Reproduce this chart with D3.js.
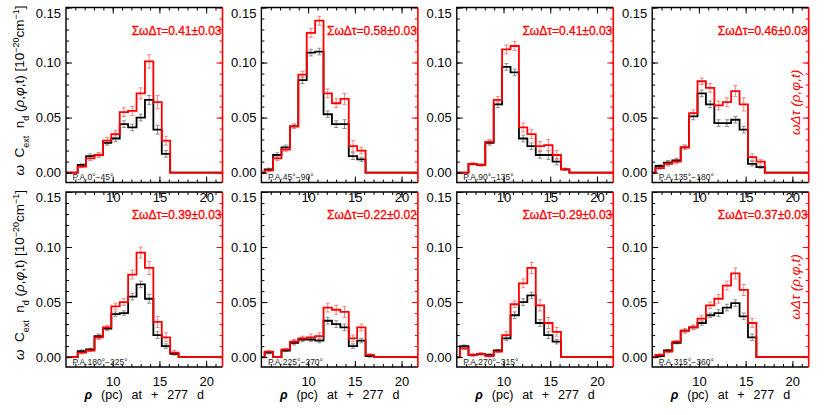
<!DOCTYPE html>
<html>
<head>
<meta charset="utf-8">
<script src="https://cdn.jsdelivr.net/npm/d3@7"></script>
<style>
body { margin: 0; background: #fff; }
svg text { font-family: "Liberation Sans", Arial, Helvetica, sans-serif; }
</style>
</head>
<body>
<svg id="fig" width="830" height="415"></svg>
<script>
// bin edges in rho (pc), 13 bins
let rhoEdges = [5.35, 6.25, 7.15, 8.05, 8.95, 9.85, 10.75, 11.65, 12.55, 13.45, 14.35, 15.25, 16.15, 17.05];

let paLabels = ['P.A.0°−45°', 'P.A.45°−90°', 'P.A.90°−135°', 'P.A.135°−180°',
                'P.A.180°−225°', 'P.A.225°−270°', 'P.A.270°−315°', 'P.A.315°−360°'];

let sumLabels = ['0.41±0.03', '0.58±0.03', '0.41±0.03', '0.46±0.03',
                 '0.39±0.03', '0.22±0.02', '0.29±0.03', '0.37±0.03'];

// omega C_ext n_d (black)
let cextND = [
  [0, 0.007, 0.015, 0.016, 0.027, 0.031, 0.044, 0.041, 0.050, 0.066, 0.039, 0.017, 0],
  [0.003, 0.016, 0.023, 0.042, 0.084, 0.109, 0.110, 0.053, 0.044, 0.044, 0.015, 0.012, 0],
  [0, 0.008, 0.007, 0.027, 0.062, 0.096, 0.091, 0.031, 0.024, 0.016, 0.016, 0.010, 0.003],
  [0.006, 0.009, 0.011, 0.023, 0.051, 0.072, 0.062, 0.045, 0.045, 0.048, 0.039, 0.008, 0.005],
  [0, 0.0055, 0.007, 0.019, 0.026, 0.039, 0.040, 0.055, 0.066, 0.053, 0.020, 0.010, 0.003],
  [0.004, 0, 0.006, 0.013, 0.016, 0.016, 0.015, 0.033, 0.030, 0.027, 0.010, 0.015, 0.001],
  [0.010, 0.002, 0.003, 0.002, 0.006, 0.017, 0.038, 0.050, 0.056, 0.031, 0.020, 0.014, 0],
  [0.001, 0.006, 0.013, 0.024, 0.027, 0.031, 0.038, 0.040, 0.045, 0.049, 0.037, 0.018, 0]
];
let cextNDErr = [
  [0, 0.001, 0.002, 0.002, 0.002, 0.003, 0.003, 0.003, 0.003, 0.004, 0.004, 0.003, 0],
  [0.001, 0.002, 0.002, 0.002, 0.003, 0.003, 0.003, 0.003, 0.003, 0.004, 0.003, 0.002, 0],
  [0, 0.001, 0.001, 0.002, 0.003, 0.003, 0.003, 0.003, 0.003, 0.003, 0.004, 0.003, 0.001],
  [0.001, 0.002, 0.002, 0.002, 0.003, 0.003, 0.003, 0.003, 0.003, 0.003, 0.003, 0.002, 0.001],
  [0, 0.001, 0.001, 0.002, 0.002, 0.002, 0.002, 0.003, 0.003, 0.004, 0.003, 0.002, 0.001],
  [0.001, 0, 0.001, 0.002, 0.002, 0.002, 0.002, 0.003, 0.003, 0.003, 0.002, 0.002, 0.001],
  [0.001, 0.001, 0.001, 0.001, 0.001, 0.002, 0.003, 0.003, 0.003, 0.003, 0.003, 0.002, 0],
  [0.001, 0.001, 0.001, 0.002, 0.002, 0.002, 0.002, 0.003, 0.003, 0.003, 0.003, 0.003, 0]
];

// omega Delta tau (red)
let dTau = [
  [0, 0.0055, 0.013, 0.016, 0.029, 0.035, 0.055, 0.056, 0.072, 0.101, 0.064, 0.029, 0],
  [0.002, 0.013, 0.021, 0.042, 0.089, 0.127, 0.138, 0.072, 0.063, 0.067, 0.024, 0.020, 0],
  [0, 0.008, 0.007, 0.028, 0.066, 0.112, 0.115, 0.041, 0.035, 0.024, 0.025, 0.016, 0.003],
  [0.004, 0.008, 0.010, 0.023, 0.054, 0.083, 0.077, 0.061, 0.064, 0.074, 0.062, 0.014, 0.010],
  [0, 0.004, 0.006, 0.018, 0.027, 0.046, 0.050, 0.075, 0.095, 0.081, 0.032, 0.018, 0.004],
  [0.005, 0, 0.007, 0.014, 0.017, 0.018, 0.019, 0.045, 0.043, 0.041, 0.017, 0.027, 0.002],
  [0.008, 0.002, 0.003, 0.001, 0.005, 0.020, 0.048, 0.067, 0.081, 0.047, 0.031, 0.023, 0],
  [0.002, 0.005, 0.014, 0.024, 0.027, 0.035, 0.047, 0.053, 0.065, 0.076, 0.061, 0.031, 0]
];
let dTauErr = [
  [0, 0.001, 0.002, 0.002, 0.003, 0.003, 0.004, 0.004, 0.005, 0.006, 0.006, 0.004, 0],
  [0.001, 0.002, 0.002, 0.002, 0.003, 0.004, 0.004, 0.004, 0.004, 0.005, 0.005, 0.003, 0],
  [0, 0.001, 0.001, 0.002, 0.003, 0.004, 0.004, 0.004, 0.004, 0.004, 0.005, 0.004, 0.001],
  [0.001, 0.002, 0.002, 0.002, 0.003, 0.003, 0.004, 0.004, 0.004, 0.005, 0.006, 0.003, 0.002],
  [0, 0.001, 0.001, 0.002, 0.002, 0.003, 0.003, 0.004, 0.005, 0.006, 0.005, 0.004, 0.002],
  [0.001, 0, 0.001, 0.002, 0.002, 0.003, 0.003, 0.004, 0.004, 0.005, 0.003, 0.003, 0.001],
  [0.001, 0.001, 0.001, 0.001, 0.001, 0.003, 0.003, 0.004, 0.005, 0.005, 0.005, 0.004, 0],
  [0.001, 0.001, 0.001, 0.002, 0.002, 0.003, 0.003, 0.004, 0.004, 0.005, 0.005, 0.004, 0]
];

let yMajor = [0, 0.05, 0.10, 0.15];
let xMajor = [10, 15, 20];

let svg = d3.select('#fig');
let pw = 156.5, ph = 175;
let xmin = 5, xmax = 21.75;

let sx = d3.scaleLinear().domain([xmin, xmax]).range([0, pw]);
let sy = d3.scaleLinear().domain([-0.009, 0.15]).range([ph, 0]);

let yMinor = d3.range(0, 0.1501, 0.01);
let xMinor = d3.range(6, 22, 1);

let line = d3.line()
  .x(d => sx(d.x))
  .y(d => sy(d.v))
  .curve(d3.curveStepAfter);

function stepPoints(vals){
  let pts = [{x: xmin, v: 0}];
  vals.forEach((v, i) => pts.push({x: rhoEdges[i], v: v}));
  pts.push({x: rhoEdges[vals.length], v: 0});
  pts.push({x: xmax, v: 0});
  return pts;
}

function drawErr(g, vals, errs, color){
  let d = vals.map((v, i) => ({c: (rhoEdges[i] + rhoEdges[i+1]) / 2, v: v, e: errs[i]}))
    .filter(d => d.v > 0 && d.e > 0);
  let eg = g.append('g').attr('stroke', color).attr('stroke-width', 1);
  eg.selectAll('.eb').data(d).enter().append('line')
    .attr('x1', d => sx(d.c)).attr('x2', d => sx(d.c))
    .attr('y1', d => sy(d.v - d.e)).attr('y2', d => sy(d.v + d.e));
  eg.selectAll('.cap1').data(d).enter().append('line')
    .attr('x1', d => sx(d.c) - 2).attr('x2', d => sx(d.c) + 2)
    .attr('y1', d => sy(d.v - d.e)).attr('y2', d => sy(d.v - d.e));
  eg.selectAll('.cap2').data(d).enter().append('line')
    .attr('x1', d => sx(d.c) - 2).attr('x2', d => sx(d.c) + 2)
    .attr('y1', d => sy(d.v + d.e)).attr('y2', d => sy(d.v + d.e));
}

function ticks(g, axis, color){
  g.call(axis);
  g.select('.domain').remove();
  g.selectAll('line').attr('stroke', color).attr('stroke-width', 1);
}

for(let p = 0; p < 8; p++){
  let col = p % 4, row = Math.floor(p / 4);
  let g = svg.append('g')
    .attr('transform', `translate(${66 + col*195.4},${7.5 + row*184.5})`);

  // error bars under the lines
  drawErr(g, cextND[p], cextNDErr[p], '#8c8c8c');
  drawErr(g, dTau[p], dTauErr[p], '#ff8080');

  g.append('path').attr('d', line(stepPoints(cextND[p])))
    .attr('fill', 'none').attr('stroke', '#000').attr('stroke-width', 1.8);
  g.append('path').attr('d', line(stepPoints(dTau[p])))
    .attr('fill', 'none').attr('stroke', '#ff0000').attr('stroke-width', 1.8);

  // ticks, pointing inward
  ticks(g.append('g'), d3.axisLeft(sy).tickValues(yMinor).tickSize(-3).tickFormat(''), '#000');
  let yl = g.append('g');
  ticks(yl, d3.axisLeft(sy).tickValues(yMajor).tickSize(-6).tickPadding(5).tickFormat(d3.format('.2f')), '#000');
  yl.selectAll('text').attr('font-size', 13).attr('fill', '#000')
    .filter(d => d === 0.15).attr('y', 5.5);

  let rg = g.append('g').attr('transform', `translate(${pw},0)`);
  ticks(rg, d3.axisRight(sy).tickValues(yMinor).tickSize(-3).tickFormat(''), '#ff0000');
  let rg2 = g.append('g').attr('transform', `translate(${pw},0)`);
  ticks(rg2, d3.axisRight(sy).tickValues(yMajor).tickSize(-6).tickFormat(''), '#ff0000');

  let bg = g.append('g').attr('transform', `translate(0,${ph})`);
  ticks(bg, d3.axisBottom(sx).tickValues(xMinor).tickSize(-3).tickFormat(''), '#000');
  let bl = g.append('g').attr('transform', `translate(0,${ph})`);
  ticks(bl, d3.axisBottom(sx).tickValues(xMajor).tickSize(-6).tickPadding(10), '#000');
  bl.selectAll('text').attr('font-size', 13).attr('fill', '#000');

  ticks(g.append('g'), d3.axisTop(sx).tickValues(xMinor).tickSize(-3).tickFormat(''), '#000');
  ticks(g.append('g'), d3.axisTop(sx).tickValues(xMajor).tickSize(-6).tickFormat(''), '#000');

  // frame
  g.append('path').attr('d', `M${pw},0H0V${ph}H${pw}`)
    .attr('fill', 'none').attr('stroke', '#000').attr('stroke-width', 1.4);
  g.append('line').attr('x1', pw).attr('x2', pw).attr('y1', 0).attr('y2', ph)
    .attr('stroke', '#ff0000').attr('stroke-width', 1.6);

  g.append('text')
    .attr('x', pw - 1).attr('y', 27)
    .attr('text-anchor', 'end').attr('font-size', 12)
    .attr('fill', '#ff0000').attr('stroke', '#ff0000').attr('stroke-width', 0.3)
    .text('ΣωΔτ=' + sumLabels[p]);

  g.append('text')
    .attr('x', 6.5).attr('y', ph - 2.5)
    .attr('font-size', 8.5).attr('fill', '#222')
    .text(paLabels[p]);

  if(row === 1){
    let xl = g.append('text')
      .attr('x', pw / 2).attr('y', 399 - 192)
      .attr('text-anchor', 'middle').attr('font-size', 12.5)
      .attr('word-spacing', 5.5).attr('fill', '#000');
    xl.append('tspan').attr('font-style', 'italic').attr('font-weight', 'bold').text('ρ');
    xl.append('tspan').text(' (pc) at + 277 d');
  }
}

// left axis titles
[0, 1].forEach(row => {
  let t = svg.append('text')
    .attr('transform', `translate(24,${7.5 + row*184.5 + 83}) rotate(-90)`)
    .attr('text-anchor', 'middle').attr('font-size', 13.5).attr('fill', '#000')
    .attr('xml:space', 'preserve').style('white-space', 'pre');
  t.append('tspan').attr('font-style', 'italic').text('ω  ');
  t.append('tspan').text('C');
  t.append('tspan').attr('font-size', 9).attr('baseline-shift', 'sub').text('ext');
  t.append('tspan').text('  n');
  t.append('tspan').attr('font-size', 9).attr('baseline-shift', 'sub').text('d');
  t.append('tspan').text(' (');
  t.append('tspan').attr('font-style', 'italic').text('ρ');
  t.append('tspan').text(',');
  t.append('tspan').attr('font-style', 'italic').text('φ');
  t.append('tspan').text(',t) [10');
  t.append('tspan').attr('font-size', 9).attr('baseline-shift', 'super').text('−20');
  t.append('tspan').text('cm');
  t.append('tspan').attr('font-size', 9).attr('baseline-shift', 'super').text('−1');
  t.append('tspan').text(']');

  let r = svg.append('text')
    .attr('transform', `translate(800,${7.5 + row*184.5 + 127.5}) rotate(-90)`)
    .attr('font-size', 13.5).attr('fill', '#ff0000')
    .attr('xml:space', 'preserve').style('white-space', 'pre');
  r.append('tspan').attr('font-style', 'italic').text('ωΔτ (ρ,φ,t)');
});
</script>
</body>
</html>
